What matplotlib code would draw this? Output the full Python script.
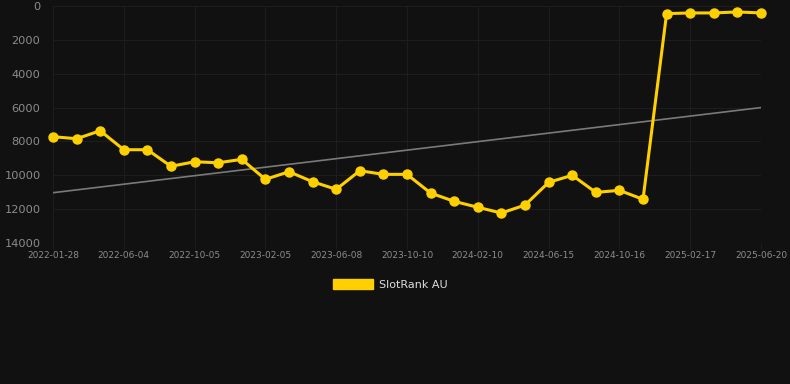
import numpy as np
import matplotlib
matplotlib.use("Agg")
from matplotlib import pyplot as plt
from matplotlib.patches import Patch

tick_dates=["2022-01-28","2022-06-04","2022-10-05","2023-02-05","2023-06-08","2023-10-10",
            "2024-02-10","2024-06-15","2024-10-16","2025-02-17","2025-06-20"]
rank=[7720,7840,7370,8490,8490,9470,9200,9260,9060,10240,9790,10380,10830,9730,9945,
      9945,11050,11540,11890,12230,11760,10420,10000,11010,10890,11420,450,410,410,350,410]
trend=[11030,6000]

bg='#111111'
gold='#ffd000'
fig=plt.figure(figsize=(7.9,3.84),dpi=100,facecolor=bg)
ax=fig.add_axes([53/790,1-243/384,708/790,237/384],facecolor=bg)
x=np.arange(len(rank))
ax.plot([x[0],x[-1]],trend,color='#7a7a7a',lw=1.2,zorder=2)
ax.plot(x,rank,color=gold,lw=2.2,marker='o',ms=6.5,zorder=3,clip_on=False)
ax.set_xlim(0,len(rank)-1)
ax.set_ylim(14000,0)
ax.set_yticks(range(0,14001,2000))
ax.set_xticks(x[::3])
ax.set_xticklabels(tick_dates)
ax.grid(True,color='#1d1d1d',lw=0.8)
for s in ax.spines.values(): s.set_visible(False)
ax.tick_params(axis='y',length=0,pad=9,labelsize=8.2,labelcolor='#8c8c8c')
ax.tick_params(axis='x',length=4,color='#1d1d1d',pad=2,labelsize=6.5,labelcolor='#8c8c8c')
fig.legend(handles=[Patch(facecolor=gold,edgecolor=gold)],labels=['SlotRank AU'],loc='center',
           bbox_to_anchor=(0.494,0.26),frameon=False,handlelength=3.6,handleheight=1.0,
           handletextpad=0.6,fontsize=8,labelcolor='#dddddd')
fig.savefig('out.png',dpi=100,facecolor=bg)
